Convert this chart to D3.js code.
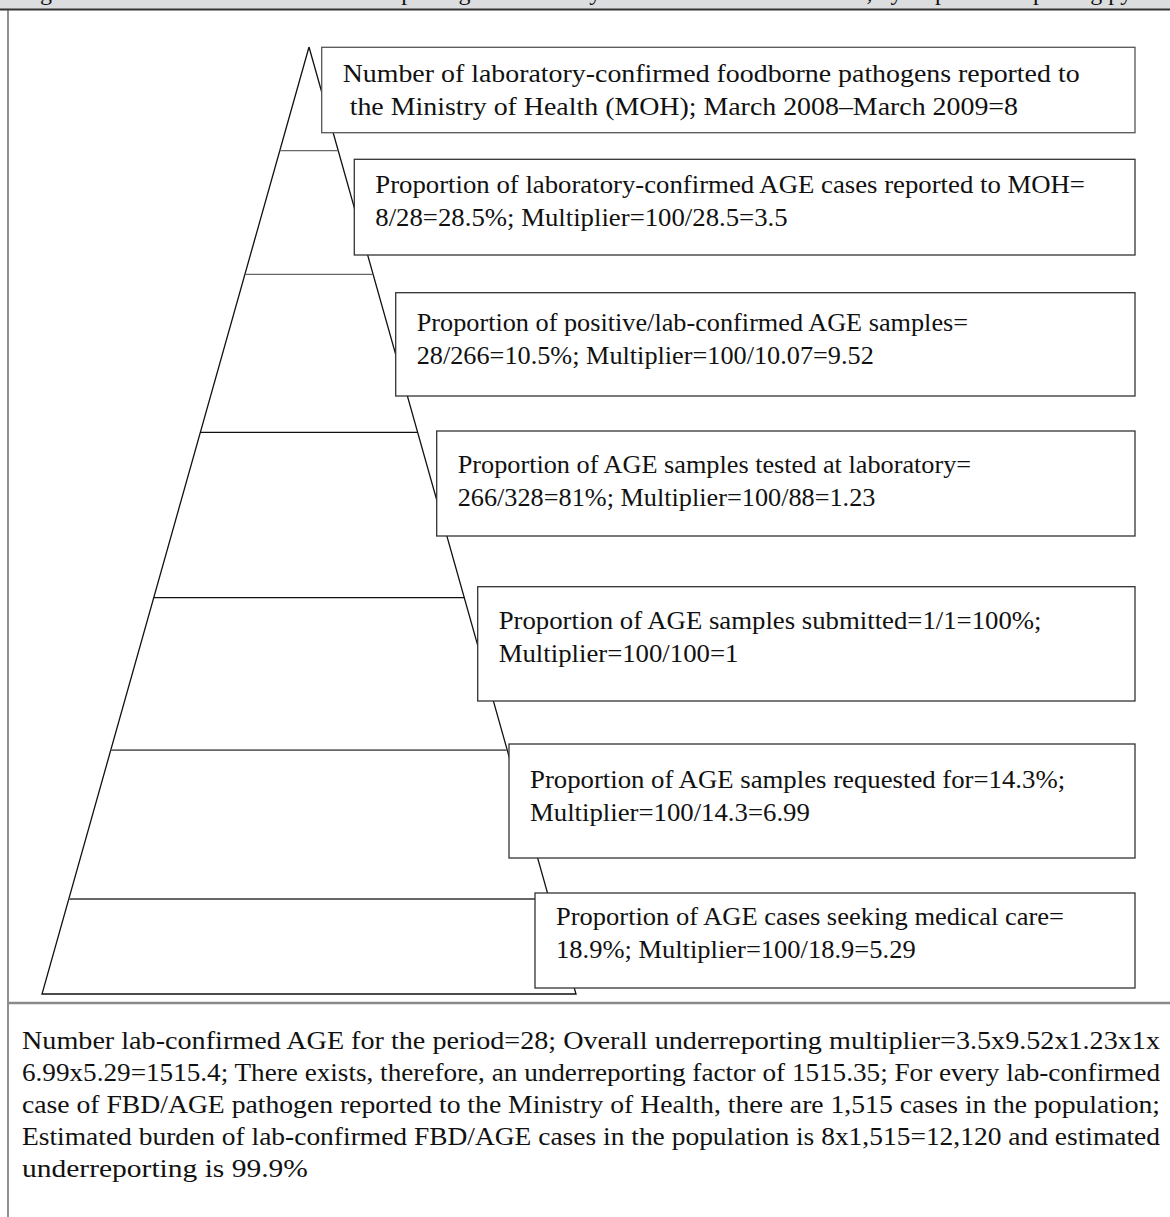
<!DOCTYPE html>
<html>
<head>
<meta charset="utf-8">
<script src="https://cdn.jsdelivr.net/npm/d3@7"></script>
<style>
  html, body { margin: 0; padding: 0; background: #fff; }
  svg { display: block; }
  text { font-family: "Liberation Serif", "Times New Roman", serif; fill: #111; white-space: pre; }
</style>
</head>
<body>
<svg id="chart" width="1170" height="1217"></svg>
<script>
// ---------------- DATA ----------------
const titleText = "Figure 1. Estimated burden and underreporting of laboratory-confirmed foodborne AGE, by step of the reporting pyramid";

// one entry per pyramid step, top (reported) to bottom (population)
const stepLabels = [
  ["Number of laboratory-confirmed foodborne pathogens reported to", " the Ministry of Health (MOH); March 2008\u2013March 2009=8"],
  ["Proportion of laboratory-confirmed AGE cases reported to MOH=", "8/28=28.5%; Multiplier=100/28.5=3.5"],
  ["Proportion of positive/lab-confirmed AGE samples=", "28/266=10.5%; Multiplier=100/10.07=9.52"],
  ["Proportion of AGE samples tested at laboratory=", "266/328=81%; Multiplier=100/88=1.23"],
  ["Proportion of AGE samples submitted=1/1=100%;", "Multiplier=100/100=1"],
  ["Proportion of AGE samples requested for=14.3%;", "Multiplier=100/14.3=6.99"],
  ["Proportion of AGE cases seeking medical care=", "18.9%; Multiplier=100/18.9=5.29"]
];
const stepMultipliers = [null, 3.5, 9.52, 1.23, 1, 6.99, 5.29];

const footerLines = [
  "Number lab-confirmed AGE for the period=28; Overall underreporting multiplier=3.5x9.52x1.23x1x",
  "6.99x5.29=1515.4; There exists, therefore, an underreporting factor of 1515.35; For every lab-confirmed",
  "case of FBD/AGE pathogen reported to the Ministry of Health, there are 1,515 cases in the population;",
  "Estimated burden of lab-confirmed FBD/AGE cases in the population is 8x1,515=12,120 and estimated",
  "underreporting is 99.9%"
];

// ---------------- LAYOUT ----------------
const W = 1170, H = 1217;
const layout = {
  apexY: 47, baseY: 994, baseLeft: 42, baseRight: 576,
  // pyramid tier boundaries as fraction of pyramid height (apex=0, base=1)
  tiers: [0.1095, 0.2402, 0.4069, 0.5815, 0.7424, 0.8997],
  tierColors: ["#666", "#666", "#111", "#111", "#666", "#666"],
  tierWidths: [1.3, 1.3, 1.3, 1.3, 1.8, 1.8],
  boxRight: 1135,
  boxes: [ // left, top, bottom, first-baseline offset, horizontal text stretch
    [321.7, 47.3, 132.7, 35, 1.115],
    [354.3, 159.3, 255, 34, 1.07],
    [395.7, 292.7, 396, 38, 1.05],
    [436.7, 431, 536, 42, 1.05],
    [477.7, 586.7, 701, 42, 1.07],
    [509, 744, 858, 44, 1.07],
    [535, 893, 988, 32, 1.06]
  ],
  fontSize: 25, lineGap: 33, padLeft: 21,
  footerX: 22, footerWidth: 1138, footerBase: 1049, footerGap: 32, lastStretch: 1.18,
  dividerY: 1003
};

const svg = d3.select("#chart");

// header band (cropped caption)
svg.append("rect").attr("x", 0).attr("y", 0).attr("width", W).attr("height", 9).attr("fill", "#dcdddf");
svg.append("defs").append("clipPath").attr("id", "hdrclip")
  .append("rect").attr("x", 0).attr("y", 0).attr("width", W).attr("height", 9);
svg.append("text").attr("clip-path", "url(#hdrclip)")
  .attr("x", 20).attr("y", -0.5).attr("font-size", 24).text(titleText);
svg.append("line").attr("x1", 0).attr("x2", W).attr("y1", 9.5).attr("y2", 9.5)
  .attr("stroke", "#333").attr("stroke-width", 2);

// frame
svg.append("line").attr("x1", 8).attr("x2", 8).attr("y1", 10).attr("y2", H)
  .attr("stroke", "#555").attr("stroke-width", 1.3);
svg.append("line").attr("x1", 8).attr("x2", W).attr("y1", layout.dividerY).attr("y2", layout.dividerY)
  .attr("stroke", "#8a8a8a").attr("stroke-width", 2.5);

// scales
const y = d3.scaleLinear().domain([0, 1]).range([layout.apexY, layout.baseY]);
const x = d3.scaleLinear().domain([-1, 1]).range([layout.baseLeft, layout.baseRight]);

// pyramid outline
const g = svg.append("g");
g.append("path")
  .attr("d", d3.line()([[x(0), y(0)], [x(-1), y(1)], [x(1), y(1)], [x(0), y(0)]]))
  .attr("fill", "none").attr("stroke", "#111").attr("stroke-width", 1.3).attr("stroke-linejoin", "miter");

// tier lines
g.selectAll("line.tier").data(layout.tiers).join("line")
  .attr("class", "tier")
  .attr("x1", t => x(-t)).attr("x2", t => x(t))
  .attr("y1", t => y(t)).attr("y2", t => y(t))
  .attr("stroke", (t, i) => layout.tierColors[i])
  .attr("stroke-width", (t, i) => layout.tierWidths[i]);

// label boxes
const steps = stepLabels.map((lines, i) => ({ lines, mult: stepMultipliers[i], box: layout.boxes[i] }));
const bg = svg.selectAll("g.step").data(steps).join("g").attr("class", "step");
bg.append("rect")
  .attr("x", d => d.box[0]).attr("y", d => d.box[1])
  .attr("width", d => layout.boxRight - d.box[0]).attr("height", d => d.box[2] - d.box[1])
  .attr("fill", "#fff").attr("stroke", (d, i) => i === 0 ? "#555" : "#333").attr("stroke-width", 1.3);
bg.each(function (d) {
  const sel = d3.select(this);
  d.lines.forEach((ln, j) => {
    const t = sel.append("text")
      .attr("x", d.box[0] + layout.padLeft)
      .attr("y", d.box[1] + d.box[3] + j * layout.lineGap)
      .attr("font-size", layout.fontSize)
      .text(ln);
    const w = t.node().getComputedTextLength();
    t.attr("textLength", w * d.box[4]).attr("lengthAdjust", "spacingAndGlyphs");
  });
});

// footer
footerLines.forEach((ln, i) => {
  const t = svg.append("text")
    .attr("x", layout.footerX)
    .attr("y", layout.footerBase + i * layout.footerGap)
    .attr("font-size", layout.fontSize)
    .text(ln);
  const w = t.node().getComputedTextLength();
  const target = i < footerLines.length - 1 ? layout.footerWidth : w * layout.lastStretch;
  t.attr("textLength", target).attr("lengthAdjust", "spacingAndGlyphs");
});
</script>
</body>
</html>
